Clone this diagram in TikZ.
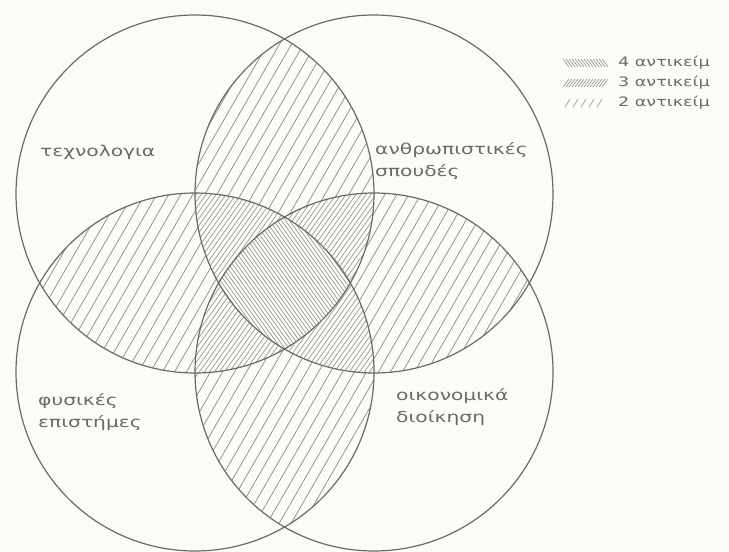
\documentclass[tikz,border=0pt]{standalone}
\usepackage{fontspec}
\usepackage{tikz}
\usetikzlibrary{positioning}
\usepackage{xcolor}
\newfontfamily\grfont[FakeStretch=1.35]{DejaVu Sans}
\definecolor{paper}{HTML}{FCFCF7}
\definecolor{ink}{HTML}{6A6A6A}
\definecolor{hatchink}{HTML}{8E8E8E}
\newcommand{\rad}{179}

\begin{document}
\begin{tikzpicture}[x=1pt, y=-1pt,
  ring/.style={draw=ink, line width=1.2pt},
  hl/.style={draw=hatchink, line width=0.75pt},
  lbl/.style={text=ink, font=\grfont\fontsize{15}{22}\selectfont, align=left, inner sep=0pt, anchor=west},
  key/.style={text=ink, font=\grfont\fontsize{13}{14}\selectfont, inner sep=0pt, anchor=west}]
\useasboundingbox[fill=paper] (0,0) rectangle (729,552);
\coordinate (tech) at (195,194);
\coordinate (anth) at (374,194);
\coordinate (phys) at (195,372);
\coordinate (econ) at (374,372);
% two subjects
\foreach \ia/\ib in {tech/anth, tech/phys, anth/econ, phys/econ}{
  \begin{scope}
    \clip (\ia) circle (\rad); \clip (\ib) circle (\rad);
    \foreach \x in {-330,-318,...,740} \draw[hl] (\x,560) -- ++(323,-560);
  \end{scope}}
% three subjects
\foreach \ia/\ib/\ic in {tech/anth/phys, tech/anth/econ, tech/phys/econ, anth/phys/econ}{
  \begin{scope}
    \clip (\ia) circle (\rad); \clip (\ib) circle (\rad); \clip (\ic) circle (\rad);
    \fill[paper] (0,0) rectangle (729,552);
    \foreach \x in {-400,-395,...,740} \draw[hl, line width=0.6pt] (\x,560) -- ++(400,-560);
  \end{scope}}
% four subjects
\begin{scope}
  \clip (tech) circle (\rad); \clip (anth) circle (\rad);
  \clip (phys) circle (\rad); \clip (econ) circle (\rad);
  \fill[paper] (0,0) rectangle (729,552);
  \foreach \x in {-400,-396,...,740} \draw[hl, line width=0.6pt] (\x,0) -- ++(400,560);
\end{scope}
\foreach \c in {tech, anth, phys, econ} \draw[ring] (\c) circle (\rad);
% labels
\node[lbl] (techlbl) at (40,152) {τεχνολογια};
\node[lbl] (anthlbl) at (375,161) {ανθρωπιστικές\\σπουδές};
\node[lbl] (physlbl) at (38,412) {φυσικές\\επιστήμες};
\node[lbl] (econlbl) at (396,407) {οικονομικά\\διοίκηση};
% legend
\foreach \x in {563,566,...,603} \draw[hl, line width=0.6pt] (\x,59) -- ++(6,8);
\foreach \x in {563,566,...,603} \draw[hl, line width=0.6pt] (\x,87) -- ++(6,-8);
\foreach \x in {565,573,...,603} \draw[hl, line width=0.6pt] (\x,107) -- ++(5,-8);
\node[key] (four) at (618,63) {4 αντικείμ};
\node[key] (three) at (618,83) {3 αντικείμ};
\node[key] (two) at (618,103) {2 αντικείμ};
\end{tikzpicture}
\end{document}
